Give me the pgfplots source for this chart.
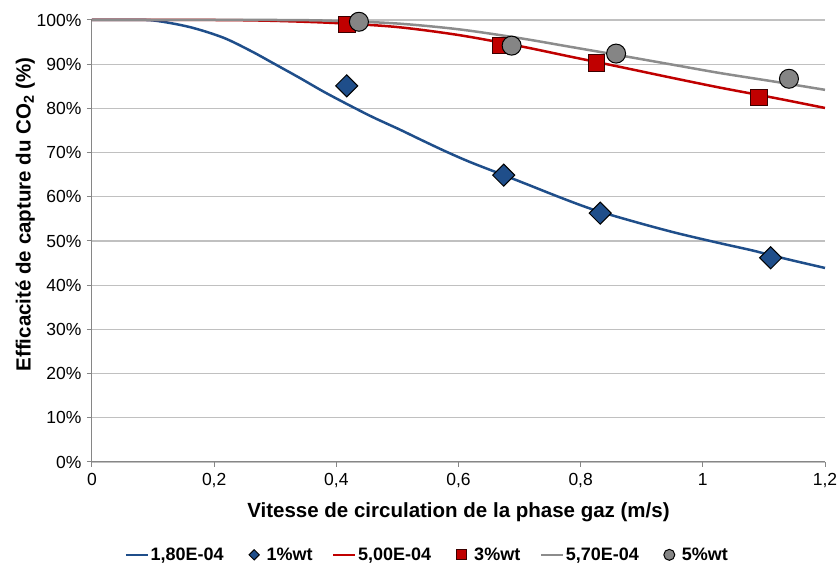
\documentclass[border=0pt]{standalone}
\usepackage{pgfplots}
\pgfplotsset{compat=1.18}
\usepackage{fontspec}
\setmainfont{Liberation Sans}

\definecolor{cblue}{HTML}{1F4E8A}
\definecolor{cred}{HTML}{C00000}
\definecolor{cgrey}{HTML}{8C8C8C}
\definecolor{cgreyfill}{HTML}{858585}
\definecolor{gridc}{HTML}{C0C0C0}
\definecolor{axisc}{HTML}{868686}

\pgfplotsset{
  lineleg/.style={legend image code/.code={\draw[##1] (0pt,0pt) -- (22pt,0pt);}},
  markleg/.style={legend image code/.code={
      \path[draw=none, fill=none] (0pt,0pt) -- (22pt,0pt);
      \path[##1, draw=none, mark size=#1] plot coordinates {(11pt,0pt)};}},
}

\begin{document}
\begin{tikzpicture}
\begin{axis}[
    scale only axis,
    width=733pt, height=442pt,
    xmin=0, xmax=1.2,
    ymin=0, ymax=100,
    clip=false,
    axis x line*=bottom,
    axis y line*=left,
    axis line style={-, draw=axisc, line width=1pt},
    xtick={0,0.2,0.4,0.6,0.8,1,1.2},
    xticklabels={0,{0,2},{0,4},{0,6},{0,8},1,{1,2}},
    ytick={0,10,...,100},
    yticklabels={0\%,10\%,20\%,30\%,40\%,50\%,60\%,70\%,80\%,90\%,100\%},
    tick align=outside,
    major tick length=5pt,
    tick style={draw=axisc, line width=1pt},
    ymajorgrids=true,
    grid style={draw=gridc, line width=1.2pt},
    ticklabel style={font=\fontsize{17.5}{20}\selectfont, black},
    xticklabel style={yshift=-3pt},
    yticklabel style={xshift=-2pt},
    xlabel={Vitesse de circulation de la phase gaz (m/s)},
    ylabel={Efficacité de capture du CO\textsubscript{2} (\%)},
    label style={font=\bfseries\fontsize{20.5}{24}\selectfont},
    xlabel style={at={(axis description cs:0.5,-0.113)}, anchor=center},
    ylabel style={at={(axis description cs:-0.091,0.56)}, anchor=center},
    legend columns=6,
    legend style={
        at={(axis description cs:0.457,-0.21)}, anchor=center,
        draw=none, fill=none,
        font=\bfseries\fontsize{18}{21}\selectfont,
        nodes={inner sep=1.5pt},
        /tikz/every even column/.append style={column sep=18pt},
    },
]

\addplot[cblue, line width=2.5pt, smooth, lineleg] coordinates {
 (0,100)(0.05,100)(0.1,99.9)(0.16,98.4)(0.215,96.0)(0.26,93.0)(0.297,90.2)
 (0.34,86.9)(0.379,83.8)(0.42,80.8)(0.46,78.0)(0.504,75.2)(0.54,72.8)
 (0.58,70.2)(0.62,67.8)(0.674,64.9)(0.72,62.4)(0.76,60.2)(0.8,58.1)
 (0.832,56.6)(0.9,53.9)(0.96,51.7)(1.028,49.5)(1.08,47.9)(1.111,46.8)
 (1.15,45.5)(1.2,43.9)
};
\addlegendentry{1,80E-04}

\addplot[only marks, mark=square*, mark size=7.8pt,
    mark options={rotate=45, fill=cblue, draw=black, line width=1pt}, markleg=3.6pt]
    coordinates {(0.417,85.1)(0.674,64.9)(0.832,56.3)(1.111,46.2)};
\addlegendentry{1\%wt}

\addplot[cred, line width=2.5pt, smooth, lineleg] coordinates {
 (0,100)(0.2,100)(0.3,99.8)(0.4,99.3)(0.5,98.4)(0.6,96.6)(0.7,94.1)
 (0.78,91.8)(0.864,89.4)(0.95,86.9)(1.028,84.7)(1.12,82.3)(1.2,80.1)
};
\addlegendentry{5,00E-04}

\addplot[only marks, mark=square*, mark size=8.3pt,
    mark options={fill=cred, draw=black!70!cred, line width=1pt}, markleg=5pt]
    coordinates {(0.417,99.0)(0.669,94.2)(0.826,90.3)(1.092,82.5)};
\addlegendentry{3\%wt}

\addplot[cgrey, line width=2.5pt, smooth, lineleg] coordinates {
 (0,100)(0.3,100)(0.4,99.8)(0.5,99.2)(0.6,97.9)(0.7,95.9)(0.78,94.0)
 (0.864,92.0)(0.95,89.9)(1.028,88.0)(1.12,86.0)(1.2,84.2)
};
\addlegendentry{5,70E-04}

\addplot[only marks, mark=*, mark size=9.5pt,
    mark options={fill=cgreyfill, draw=black, line width=1pt}, markleg=5.5pt]
    coordinates {(0.437,99.6)(0.687,94.2)(0.858,92.4)(1.141,86.7)};
\addlegendentry{5\%wt}

\end{axis}
\pgfresetboundingbox
\path[use as bounding box] (current axis.south west) ++(-92pt,-102pt) rectangle ++(839pt,564pt);
\end{tikzpicture}
\end{document}
